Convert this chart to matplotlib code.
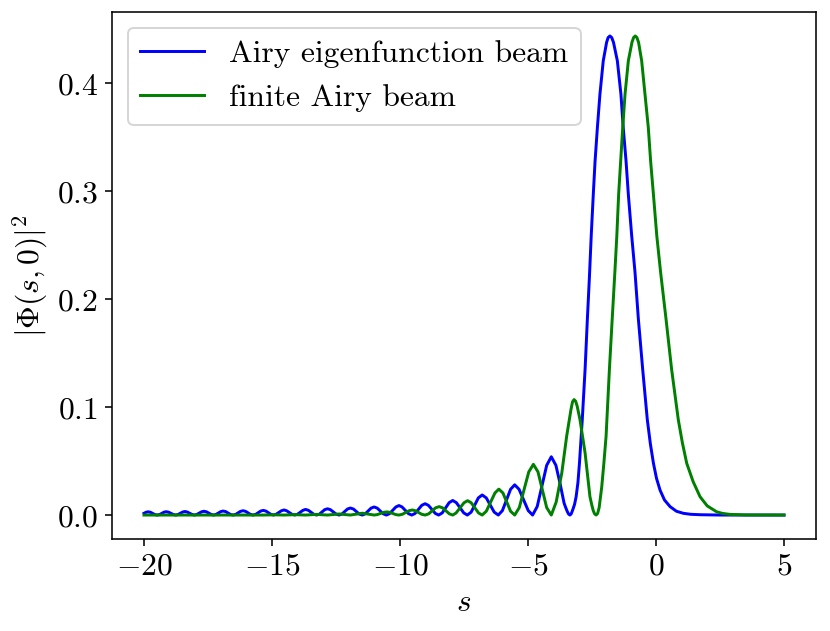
import numpy as np
from matplotlib import pyplot as plt


# values: s and |Phi(s,0)|^2
s_eig = [-20.00, -19.92, -19.84, -19.75, -19.57, -19.48, -19.39, -19.22, -19.13,
         -19.04, -18.85, -18.76, -18.67, -18.49, -18.40, -18.31, -18.12, -18.03,
         -17.94, -17.75, -17.66, -17.56, -17.37, -17.28, -17.19, -17.00, -16.91,
         -16.81, -16.62, -16.52, -16.42, -16.23, -16.13, -16.03, -15.84, -15.74,
         -15.64, -15.44, -15.34, -15.24, -15.04, -14.94, -14.84, -14.63, -14.53,
         -14.43, -14.22, -14.11, -14.00, -13.79, -13.69, -13.58, -13.37, -13.26,
         -13.15, -12.94, -12.83, -12.72, -12.49, -12.38, -12.27, -12.05, -11.94,
         -11.82, -11.59, -11.47, -11.36, -11.13, -11.01, -10.89, -10.65, -10.53,
         -10.41, -10.16, -10.04, -9.92, -9.67, -9.54,
         -9.41, -9.15, -9.02, -8.89, -8.62, -8.49, -8.35, -8.08, -7.94, -7.80,
         -7.51, -7.37, -7.22, -6.94, -6.79, -6.63, -6.32, -6.16, -6.00, -5.68,
         -5.52, -5.35, -4.99, -4.82, -4.64, -4.27, -4.09, -3.91, -3.75, -3.59,
         -3.52, -3.46, -3.41, -3.36, -3.31, -3.25, -3.18, -3.12, -3.05, -2.99,
         -2.88, -2.77, -2.68, -2.60, -2.53, -2.45, -2.38, -2.29, -2.19, -2.06,
         -1.93, -1.87, -1.80, -1.73, -1.66, -1.51, -1.37, -1.28, -1.17, -1.08,
         -0.95, -0.82, -0.69, -0.52, -0.34, -0.22, -0.10, 0.02, 0.16, 0.33,
         0.55, 0.80, 1.07, 1.35, 1.72, 2.50, 5.00]
phi_eig = [0.0016, 0.0026, 0.0030, 0.0026, 0.0004, 0.0, 0.00045, 0.00265, 0.0031,
           0.00265, 0.00045, 0.0, 0.0005, 0.0028, 0.0033, 0.0028, 0.0005, 0.0,
           0.0005, 0.0030, 0.0035, 0.0030, 0.0005, 0.0, 0.00054, 0.0032, 0.0037,
           0.0032, 0.00054, 0.0, 0.0006, 0.0034, 0.0040, 0.0034, 0.0006, 0.0,
           0.0006, 0.0037, 0.0043, 0.0037, 0.0006, 0.0, 0.0007, 0.0040, 0.0047,
           0.0040, 0.0007, 0.0, 0.0008, 0.0044, 0.0052, 0.0044, 0.0008, 0.0,
           0.0008, 0.0050, 0.0058, 0.0050, 0.0008, 0.0, 0.0009, 0.0056, 0.0065,
           0.0056, 0.0009, 0.0, 0.0011, 0.0064, 0.0075, 0.0064, 0.0011, 0.0,
           0.0013, 0.0075, 0.0088, 0.0075, 0.0013, 0.0,
           0.0015, 0.0090, 0.0105, 0.0090, 0.0015, 0.0, 0.0020, 0.0115, 0.0135, 0.0115,
           0.0020, 0.0, 0.0027, 0.0159, 0.0186, 0.0159, 0.0027, 0.0, 0.0041, 0.0239,
           0.0280, 0.0239, 0.0041, 0.0, 0.0079, 0.0461, 0.0540, 0.0461, 0.0295, 0.0110,
           0.0065, 0.0030, 0.0008, 0.0, 0.0012, 0.0050, 0.0100, 0.0170, 0.0300, 0.0480,
           0.0885, 0.1350, 0.1820, 0.2210, 0.2590, 0.2970, 0.3280, 0.3590, 0.3900, 0.4210,
           0.4380, 0.4425, 0.4440, 0.4425, 0.4380, 0.4210, 0.3900, 0.3590, 0.3280, 0.2970,
           0.2590, 0.2250, 0.1820, 0.1350, 0.0885, 0.0660, 0.0480, 0.0340, 0.0230, 0.0140,
           0.0078, 0.0035, 0.0016, 0.0007, 0.0003, 0.0, 0.0]

s_fin = [-20.00, -15.34, -14.90, -14.53, -14.10, -13.69, -13.26, -12.83, -12.38,
         -11.94, -11.47, -11.01, -10.89, -10.64, -10.52, -10.40, -10.16, -10.04,
         -9.91, -9.65, -9.52, -9.40, -9.15, -9.02, -8.88, -8.61, -8.47,
         -8.34, -8.07, -7.94, -7.81, -7.50, -7.36, -7.22, -6.93, -6.79, -6.63,
         -6.29, -6.14, -5.98, -5.68, -5.52, -5.34, -4.97, -4.79, -4.61, -4.27,
         -4.09, -3.90, -3.68, -3.49, -3.32, -3.26, -3.20, -3.14, -3.08, -2.97,
         -2.77, -2.58, -2.51, -2.45, -2.40, -2.34, -2.28, -2.22, -2.12, -2.04,
         -1.95, -1.82, -1.71, -1.60, -1.53, -1.46, -1.38, -1.30, -1.21, -1.08,
         -0.94, -0.875, -0.81, -0.745, -0.68, -0.56, -0.43, -0.30, -0.21, -0.10,
         0.03, 0.18, 0.39, 0.61, 0.87, 1.03, 1.20, 1.45, 1.72, 2.00, 2.37,
         2.60, 2.89, 3.50, 5.00]
phi_fin = [0.0, 0.0, 0.0002, 0.0, 0.00035, 0.0, 0.0006, 0.0, 0.0010,
           0.0, 0.0017, 0.0, 0.0004, 0.0025, 0.0029, 0.0025, 0.0004, 0.0,
           0.0007, 0.0040, 0.0047, 0.0040, 0.0007, 0.0, 0.0011, 0.0067, 0.0078,
           0.0067, 0.0011, 0.0, 0.0019, 0.0114, 0.0133, 0.0114, 0.0019, 0.0, 0.0035,
           0.0205, 0.0240, 0.0205, 0.0035, 0.0, 0.0069, 0.0400, 0.0470, 0.0400, 0.0069,
           0.0, 0.0120, 0.0390, 0.0730, 0.0980, 0.1050, 0.1070, 0.1055, 0.1010, 0.0885,
           0.0575, 0.0170, 0.0095, 0.0040, 0.0012, 0.0, 0.0015, 0.0070, 0.0260, 0.0470,
           0.0730, 0.1350, 0.1820, 0.2280, 0.2590, 0.2970, 0.3280, 0.3590, 0.3900, 0.4210,
           0.4380, 0.4425, 0.4440, 0.4425, 0.4380, 0.4210, 0.3900, 0.3590, 0.3280, 0.2970,
           0.2590, 0.2250, 0.1820, 0.1350, 0.0885, 0.0670, 0.0480, 0.0310, 0.0170, 0.0085, 0.0030,
           0.0015, 0.0006, 0.0001, 0.0]


plt.rcParams['font.family'] = 'serif'
plt.rcParams['font.serif'] = ['cmr10']
plt.rcParams['mathtext.fontset'] = 'cm'
plt.rcParams['axes.formatter.use_mathtext'] = True
plt.rcParams['font.size'] = 16

fig = plt.figure(figsize=(830 / 142, 631 / 142), dpi=142)
ax = fig.add_axes([112 / 830, 1 - 539 / 631, 704 / 830, 527 / 631])

ax.plot(s_eig, phi_eig, color='blue', linewidth=1.5, label='Airy eigenfunction beam')
ax.plot(s_fin, phi_fin, color='green', linewidth=1.5, label='finite Airy beam')

ax.set_xticks([-20, -15, -10, -5, 0, 5])
ax.set_yticks([0.0, 0.1, 0.2, 0.3, 0.4])
ax.set_xlabel(r'$s$')
ax.set_ylabel(r'$|\Phi(s,0)|^2$')
ax.legend(loc='upper left')

fig.savefig('out.png', dpi=142)
